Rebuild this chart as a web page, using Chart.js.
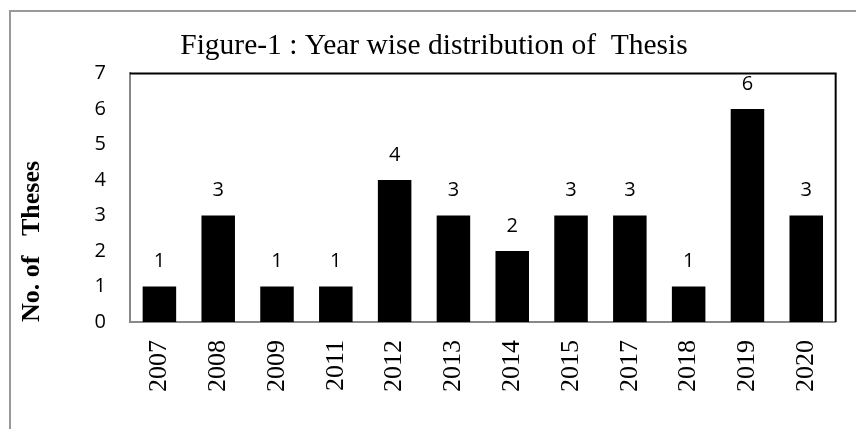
<!DOCTYPE html>
<html>
<head>
<meta charset="utf-8">
<script src="https://cdn.jsdelivr.net/npm/chart.js@4"></script>
<style>
  html, body { margin: 0; padding: 0; background: #fff; }
  #wrap { width: 856px; height: 429px; }
</style>
</head>
<body>
<div id="wrap"><canvas id="thesis-chart" width="856" height="429"></canvas></div>
<script>
(function () {
  'use strict';

  var years = ['2007', '2008', '2009', '2011', '2012', '2013', '2014', '2015', '2017', '2018', '2019', '2020'];
  var theses = [1, 3, 1, 1, 4, 3, 2, 3, 3, 1, 6, 3];
  var yTicks = [0, 1, 2, 3, 4, 5, 6, 7];

  // white page + grey outer frame that runs off the right/bottom edge
  var framePlugin = {
    id: 'frame',
    beforeDraw: function (chart) {
      var ctx = chart.ctx;
      ctx.save();
      ctx.fillStyle = '#fff';
      ctx.fillRect(0, 0, chart.width, chart.height);
      ctx.strokeStyle = '#999';
      ctx.lineWidth = 2;
      ctx.strokeRect(10, 11, chart.width + 20, chart.height + 20);
      ctx.restore();
    },
    afterDatasetsDraw: function (chart) {
      var a = chart.chartArea;
      var ctx = chart.ctx;
      ctx.save();
      ctx.strokeStyle = '#000';
      ctx.lineWidth = 2;
      ctx.beginPath();
      ctx.moveTo(a.left, a.top);
      ctx.lineTo(a.right, a.top);
      ctx.lineTo(a.right, a.bottom);
      ctx.stroke();
      ctx.restore();
    }
  };

  var valueLabels = {
    id: 'valueLabels',
    afterDatasetsDraw: function (chart) {
      var ctx = chart.ctx;
      var meta = chart.getDatasetMeta(0);
      ctx.save();
      ctx.font = '20px "Open Sans"';
      ctx.fillStyle = '#000';
      ctx.textAlign = 'center';
      ctx.textBaseline = 'middle';
      meta.data.forEach(function (bar, i) {
        ctx.fillText(String(theses[i]), bar.x, bar.y - 25);
      });
      ctx.restore();
    }
  };

  new Chart(document.getElementById('thesis-chart').getContext('2d'), {
    type: 'bar',
    data: {
      labels: years,
      datasets: [
        {
          label: 'No. of Theses',
          data: theses,
          backgroundColor: '#000',
          borderWidth: 0,
          barPercentage: 0.57,
          categoryPercentage: 1,
        },
      ],
    },
    options: {
      responsive: false,
      animation: false,
      layout: { padding: { left: 25, right: 13, top: 0, bottom: 0 } },
      plugins: {
        legend: { display: false },
        tooltip: { enabled: false },
        title: {
          display: true,
          text: 'Figure-1 : Year wise distribution of  Thesis',
          color: '#000',
          font: { family: '"Liberation Serif"', size: 29.5, weight: 'normal' },
          padding: { top: 29, bottom: 9 },
        },
      },
      scales: {
        x: {
          grid: { display: false, drawTicks: false },
          border: { color: '#888', width: 2 },
          ticks: {
            color: '#000',
            autoSkip: false,
            minRotation: 90,
            maxRotation: 90,
            padding: 18,
            font: { family: '"Liberation Serif"', size: 26 },
          },
          afterFit: function (scale) { scale.height = 107; },
        },
        y: {
          min: 0,
          max: yTicks[yTicks.length - 1],
          grid: { display: false, drawTicks: false },
          border: { color: '#888', width: 2 },
          afterBuildTicks: function (scale) {
            scale.ticks = yTicks.map(function (v) { return { value: v }; });
          },
          ticks: {
            color: '#000',
            padding: 24,
            font: { family: '"Open Sans"', size: 20 },
          },
          title: {
            display: true,
            text: 'No. of   Theses',
            align: 'start',
            color: '#000',
            font: { family: '"Liberation Serif"', size: 26, weight: 'bold' },
            padding: { top: -8, bottom: 0 },
          },
          afterFit: function (scale) { scale.width = 105; },
        },
      },
    },
    plugins: [framePlugin, valueLabels],
  });
})();
</script>
</body>
</html>
